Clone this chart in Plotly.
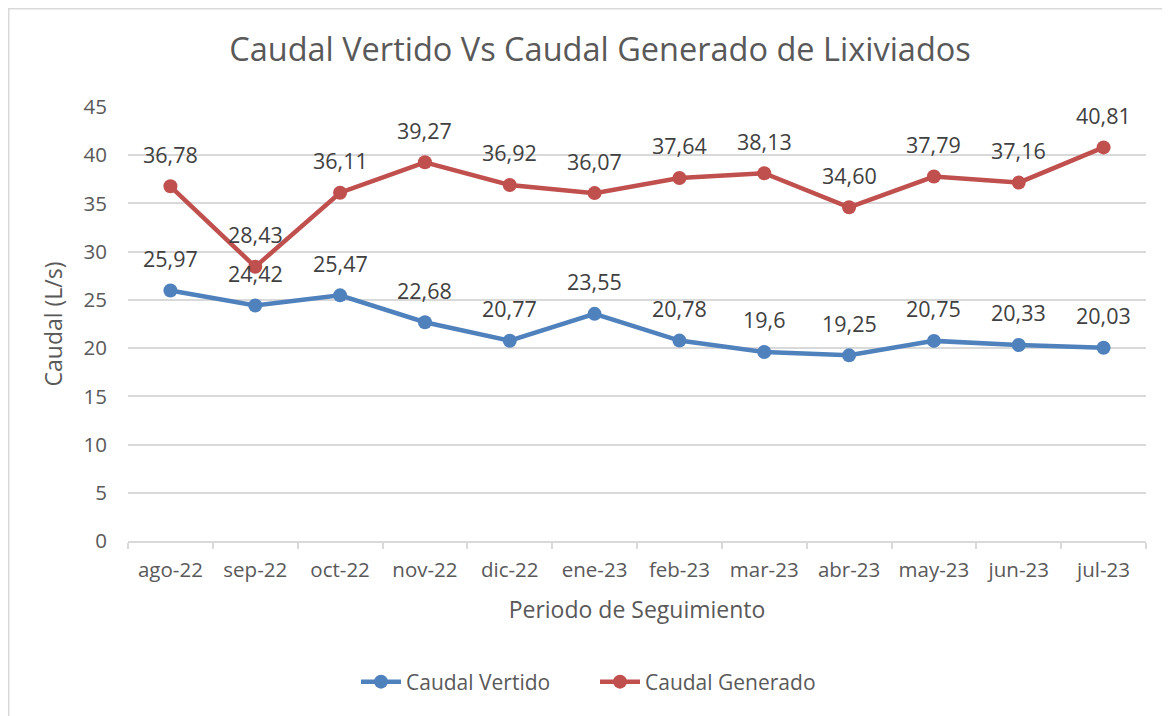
import plotly.graph_objects as go

months = ["ago-22", "sep-22", "oct-22", "nov-22", "dic-22", "ene-23",
          "feb-23", "mar-23", "abr-23", "may-23", "jun-23", "jul-23"]
vertido = [25.97, 24.42, 25.47, 22.68, 20.77, 23.55, 20.78, 19.6, 19.25, 20.75, 20.33, 20.03]
vertido_lbl = ["25,97", "24,42", "25,47", "22,68", "20,77", "23,55", "20,78", "19,6", "19,25", "20,75", "20,33", "20,03"]
generado = [36.78, 28.43, 36.11, 39.27, 36.92, 36.07, 37.64, 38.13, 34.60, 37.79, 37.16, 40.81]
generado_lbl = ["36,78", "28,43", "36,11", "39,27", "36,92", "36,07", "37,64", "38,13", "34,60", "37,79", "37,16", "40,81"]
y_ticks = [0, 5, 10, 15, 20, 25, 30, 35, 40, 45]

FONT = "Open Sans"
BLUE = "#4f81bd"
RED = "#c0504d"
TXT = "#595959"
LBL = "#404040"
GRID = "#d9d9d9"

L, R, T, B = 120, 32, 99, 183
PW, PH = 1170 - L - R, 716 - T - B

fig = go.Figure()
fig.add_trace(go.Scatter(x=months, y=vertido, mode="lines+markers", name="Caudal Vertido",
                         line=dict(color=BLUE, width=4.5), marker=dict(color=BLUE, size=14)))
fig.add_trace(go.Scatter(x=months, y=generado, mode="lines+markers", name="Caudal Generado",
                         line=dict(color=RED, width=4.5), marker=dict(color=RED, size=14)))

for xs, ys, ls in [(months, vertido, vertido_lbl), (months, generado, generado_lbl)]:
    for x, y, t in zip(xs, ys, ls):
        fig.add_annotation(x=x, y=y, text=t, showarrow=False, yshift=32,
                           font=dict(family=FONT, size=21.5, color=LBL))

fig.update_layout(
    width=1170, height=716,
    margin=dict(l=L, r=R, t=T, b=B),
    paper_bgcolor="white", plot_bgcolor="white",
    title=dict(text="Caudal Vertido Vs Caudal Generado de Lixiviados",
               x=0.506, xanchor="center", y=1 - 42 / 716, yanchor="middle",
               font=dict(family=FONT, size=32.5, color=TXT)),
    font=dict(family=FONT, color=TXT),
    showlegend=True,
    legend=dict(orientation="h", x=(587 - L) / PW, xanchor="center",
                y=-(674 - (T + PH)) / PH, yanchor="middle",
                font=dict(family=FONT, size=21, color=TXT), itemwidth=40,
                entrywidth=184, entrywidthmode="pixels",
                tracegroupgap=0),
    xaxis=dict(range=[-0.5, 11.5], showgrid=False, showline=True, linecolor=GRID, linewidth=1.5,
               ticks="outside", tickson="boundaries", ticklen=6, tickcolor=GRID, tickwidth=1.5,
               ticklabelstandoff=10,
               tickfont=dict(family=FONT, size=20.5, color=TXT),
               title=dict(text="Periodo de Seguimiento", standoff=20,
                          font=dict(family=FONT, size=23, color=TXT))),
    yaxis=dict(range=[0, 45], tickvals=y_ticks, showgrid=True, gridcolor=GRID, gridwidth=1.5,
               zeroline=False, showline=False, ticks="", ticklabelstandoff=20,
               tickfont=dict(family=FONT, size=20.5, color=TXT),
               title=dict(text="Caudal (L/s)", standoff=14,
                          font=dict(family=FONT, size=23, color=TXT))),
)

fig.add_shape(type="rect", xref="paper", yref="paper",
              x0=(-L + 0.5) / PW, x1=(1190 - L) / PW,
              y0=-(740 - (T + PH)) / PH, y1=1 + (T - 0.5) / PH,
              line=dict(color=GRID, width=2), fillcolor="rgba(0,0,0,0)", layer="below")

fig.write_html("out.html")
